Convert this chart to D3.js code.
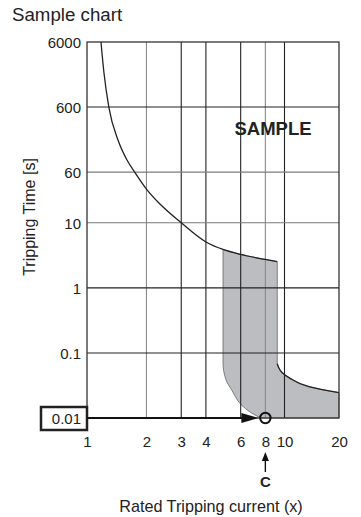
<!DOCTYPE html>
<html>
<head>
<meta charset="utf-8">
<script src="https://cdn.jsdelivr.net/npm/d3@7"></script>
<style>
  body { margin: 0; background: #fff; }
  svg text { font-family: "Liberation Sans", Arial, sans-serif; fill: #222; }
</style>
</head>
<body>
<svg id="chart" width="361" height="517"></svg>
<script>
// ticks
var xTicks = [1, 2, 3, 4, 6, 8, 10, 20];
var yTicks = [0.01, 0.1, 1, 10, 60, 600, 6000];

// upper tripping curve (multiple of rated current, seconds)
var curveX = [1.177, 1.219, 1.292, 1.435, 1.594, 1.77, 2, 2.342, 3, 4, 4.883, 6, 8, 9.19];
var curveY = [6000, 2000, 581, 187, 92, 56, 33, 19.4, 10, 5.07, 3.89, 3.26, 2.73, 2.52];

// shaded band, right and left edges
var rightX = [9.19, 9.19, 9.32, 9.71, 10.7, 13.8, 20];
var rightY = [2.52, 0.068, 0.0608, 0.05, 0.041, 0.030, 0.0245];
var leftX = [4.883, 4.883, 5.06, 5.4, 6.19, 6.95, 7.6];
var leftY = [3.89, 0.07, 0.0384, 0.027, 0.0149, 0.0115, 0.01];

var readValue = 0.01;   // boxed value on y axis
var readCurrent = 8;    // point C

var svg = d3.select('#chart');

var x = d3.scaleLog().domain([1, 10, 20]).range([87, 284.5, 339]);
var y = d3.scaleLog().domain([0.01, 6000]).range([418, 42]);

// title
svg.append('text').attr('x', 12).attr('y', 21)
    .style('font-size', '18.7px').text('Sample chart');

var lineX = d3.line()
    .x(function(d) { return x(d[0]); })
    .y(function(d) { return y(d[1]); })
    .curve(d3.curveMonotoneX);
var lineY = d3.line()
    .x(function(d) { return x(d[0]); })
    .y(function(d) { return y(d[1]); })
    .curve(d3.curveMonotoneY);

var curvePts = curveX.map(function(d, i) { return [d, curveY[i]]; });
var topPts = curvePts.filter(function(d) { return d[0] >= leftX[0]; });
var rightPts = rightX.map(function(d, i) { return [d, rightY[i]]; });
var leftPts = leftX.map(function(d, i) { return [d, leftY[i]]; });

// shaded band (drawn first, grid goes over it)
var bandPath = lineX(topPts) +
    lineY(rightPts).replace(/^M/, 'L') +
    'L' + x(20) + ',' + y(0.01) +
    lineY(leftPts.slice().reverse()).replace(/^M/, 'L') + 'Z';

svg.append('path').attr('d', bandPath)
    .attr('fill', '#bcbdc1').attr('stroke', '#666').attr('stroke-width', 0.8);

// grid
var g = svg.append('g');
g.selectAll('.vgrid')
    .data(xTicks.filter(function(d) { return d > 1 && d < 20; }))
    .enter().append('line')
    .attr('x1', function(d) { return x(d); }).attr('x2', function(d) { return x(d); })
    .attr('y1', y(6000)).attr('y2', y(0.01))
    .attr('stroke', function(d) { return (d === 2 || d === 8) ? '#8a8a8a' : '#222'; })
    .attr('stroke-width', 1.1);
g.selectAll('.hgrid')
    .data(yTicks.filter(function(d) { return d > 0.01 && d < 6000; }))
    .enter().append('line')
    .attr('y1', function(d) { return y(d); }).attr('y2', function(d) { return y(d); })
    .attr('x1', x(1)).attr('x2', x(20))
    .attr('stroke', function(d) { return (d === 60 || d === 10) ? '#7a7a7a' : '#222'; })
    .attr('stroke-width', 1.1);

// curves
svg.append('path').attr('d', lineX(curvePts))
    .attr('fill', 'none').attr('stroke', '#222').attr('stroke-width', 1.3);
svg.append('path').attr('d', lineY(rightPts.slice(1)))
    .attr('fill', 'none').attr('stroke', '#222').attr('stroke-width', 1.3);

// frame
svg.append('rect').attr('x', x(1)).attr('y', y(6000))
    .attr('width', x(20) - x(1)).attr('height', y(0.01) - y(6000))
    .attr('fill', 'none').attr('stroke', '#333').attr('stroke-width', 1.3);

// axes
var fmt = function(d) { return String(d); };
var yAxis = svg.append('g').attr('transform', 'translate(' + x(1) + ',0)')
    .call(d3.axisLeft(y).tickValues(yTicks).tickFormat(fmt).tickSize(0).tickPadding(6));
yAxis.select('.domain').remove();
yAxis.selectAll('text').style('font-size', '15px').attr('fill', '#222').attr('dy', '0.36em');

var xAxis = svg.append('g').attr('transform', 'translate(0,' + y(0.01) + ')')
    .call(d3.axisBottom(x).tickValues(xTicks).tickFormat(fmt).tickSize(0).tickPadding(18));
xAxis.select('.domain').remove();
xAxis.selectAll('text').style('font-size', '15px').attr('fill', '#222');

svg.append('text')
    .attr('transform', 'translate(35,217) rotate(-90)')
    .attr('text-anchor', 'middle')
    .style('font-size', '16px').text('Tripping Time [s]');
svg.append('text').attr('x', 211).attr('y', 512)
    .attr('text-anchor', 'middle')
    .style('font-size', '16.2px').text('Rated Tripping current (x)');

svg.append('text').attr('x', 273).attr('y', 135)
    .attr('text-anchor', 'middle').style('font-weight', 'bold')
    .style('font-size', '18.5px').text('SAMPLE');

// boxed reading value
svg.append('rect').attr('x', 41).attr('y', y(readValue) - 11)
    .attr('width', x(1) - 41).attr('height', 23)
    .attr('fill', 'none').attr('stroke', '#222').attr('stroke-width', 2.5);

// arrow to point C
var cx = x(readCurrent), cy = y(readValue);
svg.append('line').attr('x1', x(1)).attr('x2', cx - 16)
    .attr('y1', cy).attr('y2', cy).attr('stroke', '#111').attr('stroke-width', 2.2);
svg.append('path')
    .attr('d', 'M' + (cx - 24) + ',' + (cy - 5) + 'L' + (cx - 7) + ',' + cy + 'L' + (cx - 24) + ',' + (cy + 5) + 'Z')
    .attr('fill', '#111');
svg.append('circle').attr('cx', cx).attr('cy', cy).attr('r', 5.2)
    .attr('fill', 'none').attr('stroke', '#111').attr('stroke-width', 2);

// C marker
svg.append('line').attr('x1', cx).attr('x2', cx).attr('y1', 472).attr('y2', 458)
    .attr('stroke', '#111').attr('stroke-width', 1.4);
svg.append('path')
    .attr('d', 'M' + (cx - 3.5) + ',461L' + cx + ',452L' + (cx + 3.5) + ',461Z')
    .attr('fill', '#111');
svg.append('text').attr('x', cx).attr('y', 487)
    .attr('text-anchor', 'middle').style('font-weight', 'bold')
    .style('font-size', '15px').text('C');
</script>
</body>
</html>
